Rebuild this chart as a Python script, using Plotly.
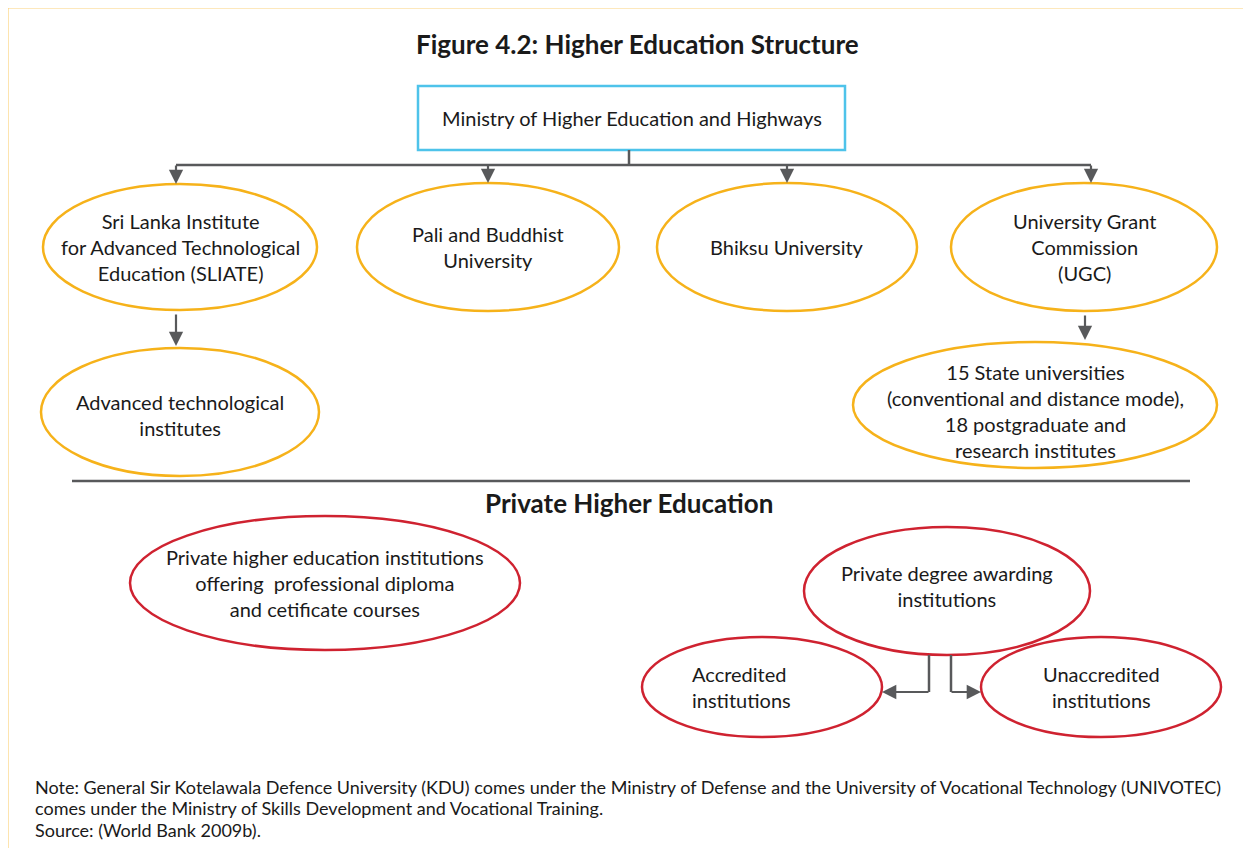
import plotly.graph_objects as go

# ---------------- content ----------------
title_text = "Figure 4.2: Higher Education Structure"
root_label = "Ministry of Higher Education and Highways"
public_labels = [
    "Sri Lanka Institute<br>for Advanced Technological<br>Education (SLIATE)",
    "Pali and Buddhist<br>University",
    "Bhiksu University",
    "University Grant<br>Commission<br>(UGC)",
]
child_labels = [
    "Advanced technological<br>institutes",
    "15 State universities<br>(conventional and distance mode),<br>18 postgraduate and<br>research institutes",
]
section_label = "Private Higher Education"
private_labels = [
    "Private higher education institutions<br>offering  professional diploma<br>and cetificate courses",
    "Private degree awarding<br>institutions",
]
private_child_labels = ["Accredited<br>institutions", "Unaccredited<br>institutions"]
note_lines = [
    "Note: General Sir Kotelawala Defence University (KDU) comes under the Ministry of Defense and the University of Vocational Technology (UNIVOTEC)",
    "comes under the Ministry of Skills Development and Vocational Training.",
    "Source: (World Bank 2009b).",
]

# ---------------- layout geometry (pixels) ----------------
OFF = 8                      # page body margin
W, H = 1251 - 2 * OFF, 856 - 2 * OFF
FONT = "Lato, 'Open Sans', sans-serif"
ORANGE = "#F6B21A"
RED = "#CF2230"
BLUE = "#4EC3EA"
GREY = "#58595B"

root_box = (418, 86, 845, 150)
public_centers = [(180, 247), (488, 247), (787, 247), (1084, 247)]
public_radii = [(137, 63), (131, 64), (130, 64), (133, 64)]
public_text_dy = [0, 0, 0, 0]
child_centers = [(180, 412), (1035, 405)]
child_radii = [(139, 64), (182, 63)]
child_text_dy = [3, 6]
child_parent_x = [176, 1085]
private_centers = [(325, 583), (947, 591)]
private_radii = [(195, 67), (143, 64)]
private_text_dy = [0, -5]
pchild_centers = [(762, 687), (1101, 687)]
pchild_radii = [(120, 50), (120, 50)]
note_y = [787, 808, 830]

fig = go.Figure()
shapes = []
annotations = []

def ellipse(c, r, color):
    shapes.append(dict(type="circle", xref="x", yref="y",
                       x0=c[0] - r[0], x1=c[0] + r[0], y0=c[1] - r[1], y1=c[1] + r[1],
                       line=dict(color=color, width=2.5), fillcolor="white", layer="below"))

def label(x, y, text, size=20, bold=False, align="center", xanchor="center"):
    annotations.append(dict(x=x, y=y, xref="x", yref="y", text=f"<b>{text}</b>" if bold else text,
                            showarrow=False, align=align, xanchor=xanchor, yanchor="middle",
                            font=dict(family=FONT, size=size, color="#1a1a1a")))

def line(x0, y0, x1, y1, color=GREY, width=2.5):
    shapes.append(dict(type="line", xref="x", yref="y", x0=x0, y0=y0, x1=x1, y1=y1,
                       line=dict(color=color, width=width)))

def arrow(x0, y0, x1, y1):
    annotations.append(dict(x=x1, y=y1, ax=x0, ay=y0, xref="x", yref="y", axref="x", ayref="y",
                            text="", showarrow=True, arrowhead=2, arrowsize=1.3, arrowwidth=2.2,
                            arrowcolor=GREY, standoff=0, startstandoff=0))

# frame (top and left page rule)
shapes.append(dict(type="line", xref="x", yref="y", x0=8, y0=8, x1=1260, y1=8, line=dict(color="#FBD27A", width=1.2)))
shapes.append(dict(type="line", xref="x", yref="y", x0=8, y0=8, x1=8, y1=870, line=dict(color="#FBD27A", width=1.2)))

# title
label(637, 44, title_text, size=26, bold=True)

# root box
shapes.append(dict(type="rect", xref="x", yref="y", x0=root_box[0], y0=root_box[1], x1=root_box[2], y1=root_box[3],
                   line=dict(color=BLUE, width=2.5), fillcolor="white"))
label((root_box[0] + root_box[2]) / 2, (root_box[1] + root_box[3]) / 2, root_label)

# connector from root
line(629, root_box[3], 629, 165)
line(176, 165, 1091, 165)
for ax_, (cx, cy), (rx, ry) in zip([176, 488, 787, 1091], public_centers, public_radii):
    arrow(ax_, 164, ax_, cy - ry)

for c, r, t, dy in zip(public_centers, public_radii, public_labels, public_text_dy):
    ellipse(c, r, ORANGE)
    label(c[0], c[1] + dy, t)

# children of SLIATE and UGC
for px, c, r, t, dy, pc, pr in zip(child_parent_x, child_centers, child_radii, child_labels, child_text_dy,
                                   [public_centers[0], public_centers[3]], [public_radii[0], public_radii[3]]):
    arrow(px, pc[1] + pr[1] + 3, px, c[1] - r[1] - 2)
    ellipse(c, r, ORANGE)
    label(c[0], c[1] + dy, t)

# separator
line(72, 481, 1190, 481, width=2.5)
label(629, 503, section_label, size=26, bold=True)

# private
for c, r, t, dy in zip(private_centers, private_radii, private_labels, private_text_dy):
    ellipse(c, r, RED)
    label(c[0], c[1] + dy, t)

# private children connectors
db = private_centers[1][1] + private_radii[1][1]
line(929, db, 929, 692)
line(951, db, 951, 692)
arrow(930, 692, pchild_centers[0][0] + pchild_radii[0][0], 692)
arrow(950, 692, pchild_centers[1][0] - pchild_radii[1][0], 692)

for c, r in zip(pchild_centers, pchild_radii):
    ellipse(c, r, RED)
label(690, pchild_centers[0][1], private_child_labels[0], xanchor="left", align="left")
label(pchild_centers[1][0], pchild_centers[1][1], private_child_labels[1])

# note
for t, y in zip(note_lines, note_y):
    annotations.append(dict(x=33, y=y, xref="x", yref="y", text=t, showarrow=False,
                            xanchor="left", yanchor="middle", align="left",
                            font=dict(family=FONT, size=18, color="#1a1a1a")))

fig.update_layout(
    width=W, height=H, margin=dict(l=0, r=0, t=0, b=0),
    paper_bgcolor="white", plot_bgcolor="white",
    xaxis=dict(range=[OFF, OFF + W], visible=False, fixedrange=True),
    yaxis=dict(range=[OFF + H, OFF], visible=False, fixedrange=True),
    shapes=shapes, annotations=annotations, showlegend=False,
)
fig.write_html("out.html")
